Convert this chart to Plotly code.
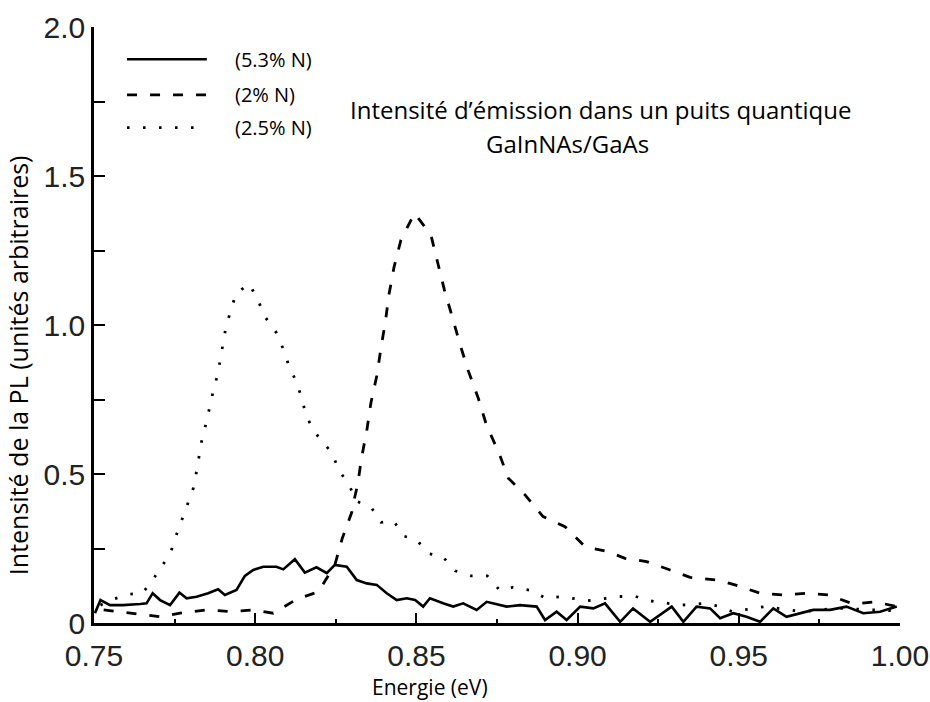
import plotly.graph_objects as go

# ---- data ----
E_53 = [0.7503, 0.752, 0.755, 0.759, 0.7643, 0.7663, 0.7682, 0.7705, 0.7736, 0.7765, 0.7787, 0.7818,
        0.7854, 0.7885, 0.7906, 0.7942, 0.7968, 0.7994, 0.8025, 0.8066, 0.8087, 0.8123, 0.8154, 0.819,
        0.8222, 0.8247, 0.8284, 0.8315, 0.8346, 0.8377, 0.8408, 0.8439, 0.847, 0.8496, 0.8521, 0.8542,
        0.8583, 0.8614, 0.8645, 0.8687, 0.8718, 0.8738, 0.878, 0.8821, 0.8873, 0.8899, 0.8935, 0.8966,
        0.9008, 0.9049, 0.9085, 0.9132, 0.9172, 0.9225, 0.9292, 0.9328, 0.9369, 0.9411, 0.9442, 0.9483,
        0.9524, 0.9566, 0.9607, 0.9648, 0.969, 0.9731, 0.9783, 0.9834, 0.9886, 0.9938, 0.999]
I_53 = [0.033, 0.077, 0.06, 0.06, 0.064, 0.066, 0.1, 0.077, 0.06, 0.102, 0.083, 0.088,
        0.1, 0.113, 0.094, 0.111, 0.158, 0.178, 0.189, 0.189, 0.18, 0.214, 0.169, 0.187,
        0.167, 0.195, 0.189, 0.144, 0.133, 0.128, 0.1, 0.077, 0.083, 0.077, 0.055, 0.083,
        0.066, 0.055, 0.066, 0.044, 0.071, 0.066, 0.055, 0.06, 0.055, 0.01, 0.038, 0.01,
        0.055, 0.049, 0.066, 0.004, 0.049, 0.004, 0.055, 0.004, 0.055, 0.049, 0.016, 0.033,
        0.021, 0.004, 0.049, 0.021, 0.033, 0.044, 0.044, 0.055, 0.033, 0.038, 0.055]

E_2 = [0.753, 0.7705, 0.7767, 0.785, 0.7927, 0.7994, 0.8056, 0.8129, 0.8196, 0.8247, 0.827, 0.83,
       0.8304, 0.8318, 0.833, 0.8346, 0.8359, 0.8377, 0.839, 0.8404, 0.8415, 0.8431, 0.8452, 0.8494,
       0.8545, 0.8566, 0.8587, 0.8611, 0.8635, 0.8661, 0.8692, 0.8718, 0.8756, 0.8785, 0.8837, 0.8893,
       0.8961, 0.9023, 0.9095, 0.9147, 0.9214, 0.9287, 0.9349, 0.9436, 0.9488, 0.9566, 0.9643, 0.9716,
       0.9778, 0.9855, 0.9923, 0.999]
I_2 = [0.044, 0.021, 0.033, 0.044, 0.038, 0.044, 0.033, 0.08, 0.105, 0.195, 0.284, 0.373,
       0.40, 0.466, 0.555, 0.645, 0.739, 0.829, 0.922, 1.013, 1.103, 1.196, 1.285, 1.375,
       1.302, 1.207, 1.117, 1.028, 0.936, 0.846, 0.754, 0.662, 0.571, 0.486, 0.43, 0.357,
       0.323, 0.256, 0.239, 0.217, 0.206, 0.178, 0.153, 0.144, 0.128, 0.1, 0.094, 0.1,
       0.094, 0.064, 0.071, 0.055]

E_25 = [0.752, 0.756, 0.761, 0.765, 0.768, 0.771, 0.7737, 0.7753, 0.7772, 0.779, 0.7808, 0.7818,
        0.7826, 0.7835, 0.7848, 0.7859, 0.787, 0.7884, 0.7893, 0.7901, 0.791, 0.7925, 0.794, 0.7982,
        0.8009, 0.803, 0.8065, 0.8086, 0.8103, 0.8127, 0.8144, 0.8156, 0.8179, 0.8213, 0.8239, 0.8259,
        0.8291, 0.8312, 0.836, 0.839, 0.843, 0.846, 0.850, 0.854, 0.858, 0.862, 0.867, 0.872,
        0.876, 0.880, 0.886, 0.890, 0.895, 0.900, 0.904, 0.913, 0.918, 0.922, 0.926, 0.932,
        0.940, 0.944, 0.948, 0.958, 0.970, 0.980, 0.990, 1.000]
I_25 = [0.06, 0.08, 0.097, 0.10, 0.141, 0.192, 0.234, 0.288, 0.343, 0.399, 0.452, 0.508,
        0.561, 0.617, 0.671, 0.726, 0.78, 0.836, 0.889, 0.942, 0.998, 1.05, 1.105, 1.138,
        1.082, 1.028, 0.975, 0.922, 0.868, 0.81, 0.757, 0.704, 0.648, 0.603, 0.569, 0.513,
        0.465, 0.41, 0.388, 0.338, 0.342, 0.292, 0.279, 0.232, 0.225, 0.175, 0.158, 0.158,
        0.108, 0.12, 0.108, 0.083, 0.089, 0.08, 0.075, 0.089, 0.089, 0.075, 0.07, 0.06,
        0.066, 0.055, 0.038, 0.055, 0.038, 0.05, 0.045, 0.04]

series_names = ["(5.3% N)", "(2% N)", "(2.5% N)"]
x_ticks = [0.75, 0.80, 0.85, 0.90, 0.95, 1.00]
x_ticktext = ["0.75", "0.80", "0.85", "0.90", "0.95", "1.00"]
y_ticks = [0, 0.5, 1.0, 1.5, 2.0]
y_ticktext = ["0", "0.5", "1.0", "1.5", "2.0"]

title_line1 = "Intensité d\u2019émission dans un puits quantique"
title_line2 = "GaInNAs/GaAs"
x_title = "Energie (eV)"
y_title = "Intensité de la PL (unités arbitraires)"

styles = [dict(dash="solid", width=2.6),
          dict(dash="10px,13px", width=2.8),
          dict(dash="2.5px,13.5px", width=2.8)]

fig = go.Figure()
for (xs, ys), name, st in zip([(E_53, I_53), (E_2, I_2), (E_25, I_25)], series_names, styles):
    fig.add_trace(go.Scatter(x=xs, y=ys, mode="lines", name=name, showlegend=False,
                             line=dict(color="black", width=st["width"], dash=st["dash"])))

TXT = "Open Sans"
# legend drawn as line samples + labels (paper coords)
leg_y = [0.946, 0.886, 0.831]
for yy, name, st in zip(leg_y, series_names, styles):
    fig.add_shape(type="line", xref="paper", yref="paper", x0=0.041, x1=0.14, y0=yy, y1=yy,
                  line=dict(color="black", width=st["width"], dash=st["dash"]))
    fig.add_annotation(xref="paper", yref="paper", x=0.172, y=yy, text=name, showarrow=False,
                       xanchor="left", yanchor="middle",
                       font=dict(family=TXT, size=20, color="black"))

fig.add_annotation(xref="paper", yref="paper", x=0.628, y=0.861, text=title_line1, showarrow=False,
                   xanchor="center", yanchor="middle", font=dict(family=TXT, size=24, color="black"))
fig.add_annotation(xref="paper", yref="paper", x=0.588, y=0.805, text=title_line2, showarrow=False,
                   xanchor="center", yanchor="middle", font=dict(family=TXT, size=24, color="black"))

# axis titles (placed off-centre as in the original)
fig.add_annotation(xref="paper", yref="paper", x=0.417, y=-0.1074, text=x_title, showarrow=False,
                   xanchor="center", yanchor="middle", borderpad=0,
                   font=dict(family=TXT, size=21, color="black"))
fig.add_annotation(xref="paper", yref="paper", x=-0.094, y=0.433, text=y_title, showarrow=False,
                   textangle=-90, xanchor="center", yanchor="middle",
                   font=dict(family=TXT, size=25, color="black"))

fig.update_layout(
    width=930, height=702,
    margin=dict(l=94, r=30, t=27, b=79),
    paper_bgcolor="white", plot_bgcolor="white",
    xaxis=dict(range=[0.75, 1.0], tickvals=x_ticks, ticktext=x_ticktext, automargin=False,
               ticks="inside", ticklen=10, tickwidth=2, tickcolor="black",
               minor=dict(dtick=0.025, tick0=0.75, ticks="inside", ticklen=4, tickwidth=2, tickcolor="black"),
               showline=True, linecolor="black", linewidth=2.5, showgrid=False, zeroline=False,
               ticklabelstandoff=4,
               tickfont=dict(family="Liberation Sans", size=30, color="#222")),
    yaxis=dict(range=[0, 2.0], tickvals=y_ticks, ticktext=y_ticktext, automargin=False,
               ticks="inside", ticklen=11, tickwidth=2, tickcolor="black",
               minor=dict(dtick=0.25, tick0=0, ticks="inside", ticklen=11, tickwidth=2, tickcolor="black"),
               showline=True, linecolor="black", linewidth=2.5, showgrid=False, zeroline=False,
               tickfont=dict(family="Liberation Sans", size=30, color="#222")),
)

fig.write_html("out.html")
